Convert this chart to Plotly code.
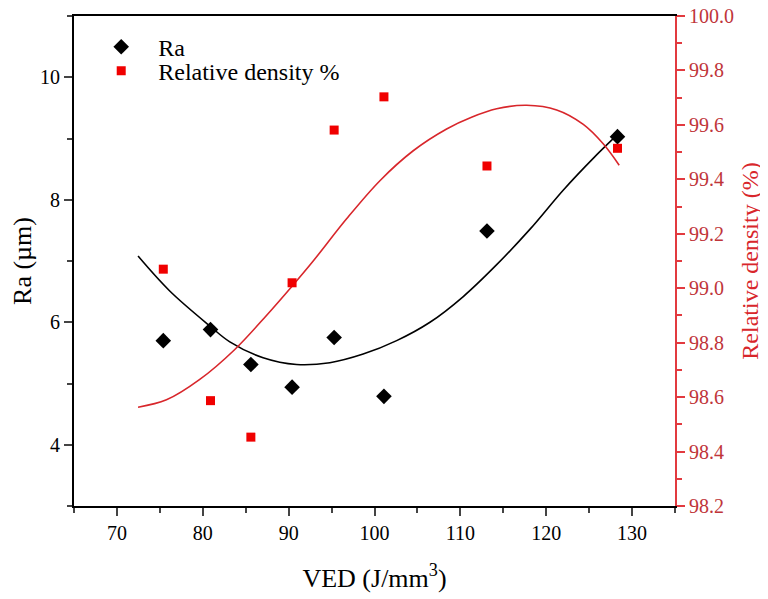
import plotly.graph_objects as go

# ---- data ----
ved = [75.4, 80.9, 85.6, 90.4, 95.3, 101.1, 113.1, 128.3]
ra = [5.70, 5.88, 5.31, 4.94, 5.75, 4.79, 7.49, 9.03]
rel_density = [99.07, 98.587, 98.453, 99.02, 99.581, 99.703, 99.449, 99.514]

# fitted curves
ra_fit_x = [72.46, 76.15, 80.9, 83.15, 87.03, 90.92, 94.80, 98.68, 102.58, 106.46,
            110.34, 114.23, 118.12, 122.0, 125.5, 128.2]
ra_fit_y = [7.08, 6.51, 5.93, 5.68, 5.42, 5.31, 5.34, 5.48, 5.70, 6.00,
            6.42, 6.94, 7.52, 8.16, 8.68, 9.05]

rd_fit_x = [72.46, 75.77, 79.65, 83.73, 87.42, 90.52, 92.86, 96.75, 100.63, 104.51,
            108.4, 111.3, 114.23, 117.73, 121.22, 124.32, 126.66, 128.5]
rd_fit_y = [98.563, 98.590, 98.665, 98.775, 98.900, 99.012, 99.100, 99.255, 99.395, 99.505,
            99.585, 99.628, 99.659, 99.672, 99.655, 99.602, 99.530, 99.452]

x_ticks = [70, 80, 90, 100, 110, 120, 130]
ra_ticks = [4, 6, 8, 10]
rd_ticks = [98.2, 98.4, 98.6, 98.8, 99.0, 99.2, 99.4, 99.6, 99.8, 100.0]

FONT = "Liberation Serif"
RED_LINE = "#e23a3f"
RED_TEXT = "#c0353a"
RED_MARK = "#f00000"

fig = go.Figure()

fig.add_trace(go.Scatter(x=ra_fit_x, y=ra_fit_y, mode="lines", line=dict(color="black", width=1.6, shape="spline"),
                         showlegend=False, hoverinfo="skip"))
fig.add_trace(go.Scatter(x=rd_fit_x, y=rd_fit_y, mode="lines", line=dict(color="#d8262b", width=1.6, shape="spline"),
                         yaxis="y2", showlegend=False, hoverinfo="skip"))

fig.add_trace(go.Scatter(x=ved, y=ra, mode="markers", name="Ra", legend="legend",
                         marker=dict(symbol="diamond", size=12, color="black")))
fig.add_trace(go.Scatter(x=ved, y=rel_density, mode="markers", name="Relative density %", legend="legend2",
                         marker=dict(symbol="square", size=9, color=RED_MARK), yaxis="y2"))

leg_common = dict(xanchor="left", yanchor="middle", bgcolor="rgba(0,0,0,0)",
                  font=dict(family=FONT, size=24, color="black"), itemwidth=64)

# the page body adds an 8px offset, so the figure is 8px smaller than the window
fig.update_layout(
    width=760, height=591,
    margin=dict(l=66, r=93, t=8, b=93, autoexpand=False),
    paper_bgcolor="white", plot_bgcolor="white",
    font=dict(family=FONT, color="black", size=20),
    showlegend=True,
    legend=dict(x=0.017, y=0.9365, **leg_common),
    legend2=dict(x=0.017, y=0.8875, **leg_common),
    xaxis=dict(range=[65, 135], tickvals=x_ticks, ticks="outside", ticklen=8, tickwidth=1.5,
               showline=True, linecolor="black", linewidth=2, mirror=True, showgrid=False, zeroline=False,
               minor=dict(dtick=5, tick0=65, ticks="outside", ticklen=5, tickwidth=1.5, showgrid=False),
               tickfont=dict(family=FONT, size=20), ticklabeloverflow="allow",
               title=dict(text="VED (J/mm<sup>3</sup>)", font=dict(family=FONT, size=26), standoff=26)),
    yaxis=dict(range=[3, 11], tickvals=ra_ticks, ticks="outside", ticklen=8, tickwidth=1.5,
               showline=True, linecolor="black", linewidth=2, showgrid=False, zeroline=False,
               minor=dict(dtick=1, tick0=3, ticks="outside", ticklen=5, tickwidth=1.5, showgrid=False),
               tickfont=dict(family=FONT, size=20), ticklabeloverflow="allow",
               title=dict(text="Ra (µm)", font=dict(family=FONT, size=26), standoff=12)),
    yaxis2=dict(range=[98.2, 100.0], tickvals=rd_ticks, tickformat=".1f", overlaying="y", side="right",
                ticks="outside", ticklen=8, tickwidth=1.5, tickcolor=RED_LINE,
                showline=True, linecolor=RED_LINE, linewidth=2, showgrid=False, zeroline=False,
                minor=dict(dtick=0.1, tick0=98.2, ticks="outside", ticklen=5, tickwidth=1.5,
                           tickcolor=RED_LINE, showgrid=False),
                tickfont=dict(family=FONT, size=20, color=RED_TEXT), ticklabeloverflow="allow",
                title=dict(text="Relative density (%)", font=dict(family=FONT, size=24, color="#d8262b"),
                           standoff=8)),
)

fig.write_html("out.html")
